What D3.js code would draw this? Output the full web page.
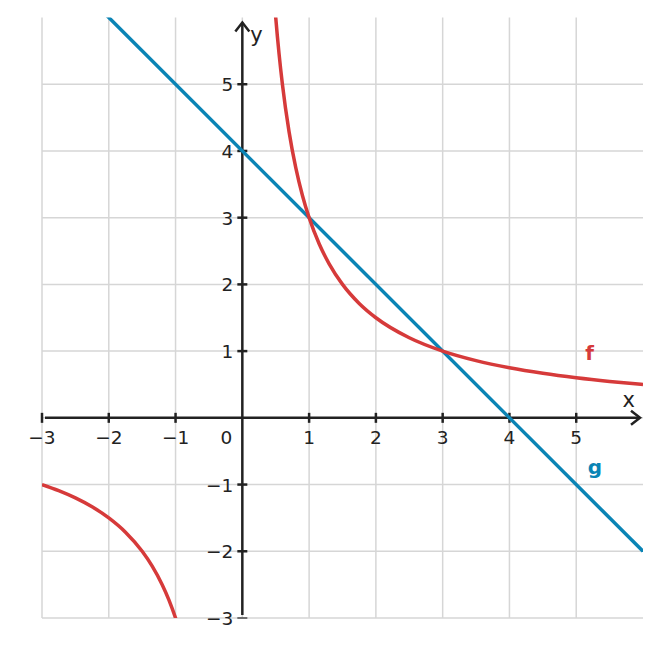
<!DOCTYPE html>
<html>
<head>
<meta charset="utf-8">
<script src="https://cdn.jsdelivr.net/npm/d3@7"></script>
<style>
  body { margin: 0; background: #fff; }
  text { font-family: "DejaVu Sans", sans-serif; }
</style>
</head>
<body>
<script>
// axis ranges and tick labels
var xTicks = [-3, -2, -1, 1, 2, 3, 4, 5];
var yTicks = [-3, -2, -1, 1, 2, 3, 4, 5];
var xGrid = [-3, -2, -1, 0, 1, 2, 3, 4, 5];
var yGrid = [-3, -2, -1, 0, 1, 2, 3, 4, 5];
var xDomain = [-3, 6];
var yDomain = [-3, 6];

var fLeftX = [-3, -2.75, -2.5, -2.25, -2, -1.75, -1.5, -1.35, -1.2, -1.1, -1, -0.95];
var fRightX = [0.45, 0.5, 0.55, 0.6, 0.7, 0.8, 0.9, 1, 1.15, 1.3, 1.5, 1.75, 2, 2.5, 3, 3.5, 4, 4.5, 5, 5.5, 6];
function f(x) { return 3 / x; }
// g(x) = 4 - x
var gX = [-2.2, 6];
function g(x) { return 4 - x; }

var width = 661, height = 648;
var xScale = d3.scaleLinear().domain(xDomain).range([42, 643]);
var yScale = d3.scaleLinear().domain(yDomain).range([618, 17.5]);

var red = "#d63a3a";
var blue = "#0a84b5";
var ink = "#222";

var svg = d3.select("body").append("svg")
            .attr("width", width)
            .attr("height", height);

svg.append("clipPath").attr("id", "plot")
   .append("rect")
   .attr("x", xScale(-3)).attr("y", yScale(6))
   .attr("width", xScale(6) - xScale(-3))
   .attr("height", yScale(-3) - yScale(6));

// grid
svg.selectAll(".vgrid").data(xGrid).enter().append("line")
   .attr("x1", function(d){ return xScale(d); })
   .attr("x2", function(d){ return xScale(d); })
   .attr("y1", yScale(-3)).attr("y2", yScale(6))
   .attr("stroke", "#d6d6d6").attr("stroke-width", 1.5);
svg.selectAll(".hgrid").data(yGrid).enter().append("line")
   .attr("y1", function(d){ return yScale(d); })
   .attr("y2", function(d){ return yScale(d); })
   .attr("x1", xScale(-3)).attr("x2", xScale(6))
   .attr("stroke", "#d6d6d6").attr("stroke-width", 1.5);

// axes
svg.append("line")
   .attr("x1", xScale(-3) + 3).attr("x2", xScale(6) - 4)
   .attr("y1", yScale(0)).attr("y2", yScale(0))
   .attr("stroke", ink).attr("stroke-width", 2.5);
svg.append("path")
   .attr("d", "M" + (xScale(6) - 12) + "," + (yScale(0) - 7) + " L" + (xScale(6) - 3) + "," + yScale(0) + " L" + (xScale(6) - 12) + "," + (yScale(0) + 7))
   .attr("fill", "none").attr("stroke", ink).attr("stroke-width", 2.5);
svg.append("line")
   .attr("x1", xScale(0)).attr("x2", xScale(0))
   .attr("y1", yScale(-3) - 3).attr("y2", yScale(6) + 5)
   .attr("stroke", ink).attr("stroke-width", 2.5);
svg.append("path")
   .attr("d", "M" + (xScale(0) - 7) + "," + (yScale(6) + 14) + " L" + xScale(0) + "," + (yScale(6) + 5) + " L" + (xScale(0) + 7) + "," + (yScale(6) + 14))
   .attr("fill", "none").attr("stroke", ink).attr("stroke-width", 2.5);

// ticks
svg.selectAll(".xtick").data(xTicks).enter().append("line")
   .attr("x1", function(d){ return xScale(d); })
   .attr("x2", function(d){ return xScale(d); })
   .attr("y1", yScale(0) - 5).attr("y2", yScale(0) + 5)
   .attr("stroke", ink).attr("stroke-width", 2.5);
svg.selectAll(".ytick").data(yTicks).enter().append("line")
   .attr("y1", function(d){ return yScale(d); })
   .attr("y2", function(d){ return yScale(d); })
   .attr("x1", xScale(0) - 5).attr("x2", xScale(0) + 5)
   .attr("stroke", ink).attr("stroke-width", function(d){ return d == -3 ? 1.2 : 2.5; });

// tick labels
svg.selectAll(".xlab").data(xTicks).enter().append("text")
   .attr("x", function(d){ return xScale(d); })
   .attr("y", yScale(0) + 26)
   .attr("text-anchor", "middle")
   .attr("font-size", 18.5).attr("fill", ink)
   .text(function(d){ return d < 0 ? "\u2212" + (-d) : d; });
svg.selectAll(".ylab").data(yTicks).enter().append("text")
   .attr("x", xScale(0) - 9)
   .attr("y", function(d){ return yScale(d) + 7; })
   .attr("text-anchor", "end")
   .attr("font-size", 18.5).attr("fill", ink)
   .text(function(d){ return d < 0 ? "\u2212" + (-d) : d; });
svg.append("text")
   .attr("x", xScale(0) - 10).attr("y", yScale(0) + 26)
   .attr("text-anchor", "end")
   .attr("font-size", 18.5).attr("fill", ink).text("0");
svg.append("text")
   .attr("x", xScale(6) - 8).attr("y", yScale(0) - 11)
   .attr("text-anchor", "end")
   .attr("font-size", 21).attr("fill", ink).text("x");
svg.append("text")
   .attr("x", xScale(0) + 8).attr("y", yScale(6) + 24)
   .attr("font-size", 21).attr("fill", ink).text("y");

// curves
var line = d3.line()
             .x(function(d){ return xScale(d[0]); })
             .y(function(d){ return yScale(d[1]); })
             .curve(d3.curveMonotoneX);
var curves = svg.append("g").attr("clip-path", "url(#plot)");
curves.append("path")
   .datum(gX.map(function(x){ return [x, g(x)]; }))
   .attr("d", line).attr("fill", "none")
   .attr("stroke", blue).attr("stroke-width", 3.5);
curves.append("path")
   .datum(fLeftX.map(function(x){ return [x, f(x)]; }))
   .attr("d", line).attr("fill", "none")
   .attr("stroke", red).attr("stroke-width", 3.5);
curves.append("path")
   .datum(fRightX.map(function(x){ return [x, f(x)]; }))
   .attr("d", line).attr("fill", "none")
   .attr("stroke", red).attr("stroke-width", 3.5);

// curve labels
svg.append("text")
   .attr("x", xScale(5.2)).attr("y", yScale(1) + 9)
   .attr("text-anchor", "middle")
   .attr("font-size", 20).attr("font-weight", "bold")
   .attr("fill", red).text("f");
svg.append("text")
   .attr("x", xScale(5.28)).attr("y", yScale(-0.7) + 9)
   .attr("text-anchor", "middle")
   .attr("font-size", 20).attr("font-weight", "bold")
   .attr("fill", blue).text("g");
</script>
</body>
</html>
